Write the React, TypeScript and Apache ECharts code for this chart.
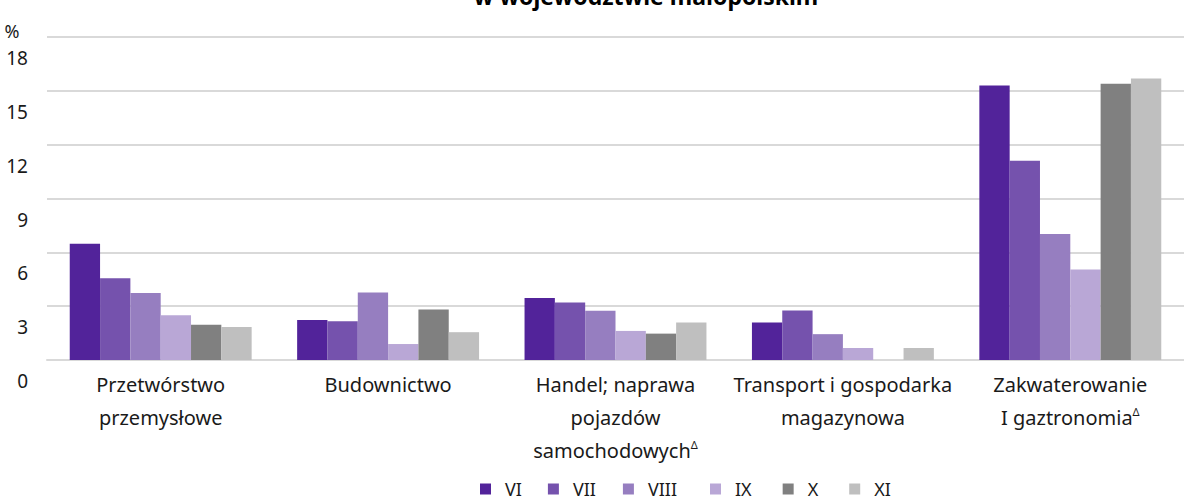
import React, { useEffect, useRef } from "react";
import * as echarts from "echarts";

const categories = [
  "Przetwórstwo\nprzemysłowe",
  "Budownictwo",
  "Handel; naprawa\npojazdów\nsamochodowychΔ",
  "Transport i gospodarka\nmagazynowa",
  "Zakwaterowanie\nI gaztronomiaΔ",
];
const seriesNames = ["VI", "VII", "VIII", "IX", "X", "XI"];
const vVI = [6.48, 2.23, 3.45, 2.09, 15.3];
const vVII = [4.56, 2.16, 3.2, 2.76, 11.1];
const vVIII = [3.73, 3.76, 2.74, 1.44, 7.02];
const vIX = [2.5, 0.89, 1.62, 0.67, 5.05];
const vX = [1.97, 2.81, 1.47, null, 15.39];
const vXI = [1.84, 1.55, 2.09, 0.67, 15.69];
const seriesValues = [vVI, vVII, vVIII, vIX, vX, vXI];
const colors = ["#52239a", "#7552ad", "#967ec0", "#b9a7d6", "#808080", "#bfbfbf"];
const yTicks = { min: 0, max: 18, interval: 3 };
const titleText = "w województwie małopolskim";
const legendTextPadRight = [0, 1, 7, 5, 5, 0];

const FONT = "Noto Sans";

export default function App() {
  const ref = useRef<HTMLDivElement>(null);
  useEffect(() => {
    if (!ref.current) return;
    const chart = echarts.init(ref.current, undefined, { renderer: "svg" });
    chart.setOption({
      animation: false,
      textStyle: { fontFamily: FONT },
      title: {
        text: titleText,
        left: 641,
        textAlign: "center",
        top: -21,
        textStyle: { fontSize: 23, fontWeight: "bold", color: "#000", fontFamily: FONT },
      },
      grid: { left: 47, top: 37, width: 1150, height: 323, containLabel: false },
      legend: {
        data: seriesNames.map((name, i) => ({
          name,
          textStyle: { padding: [0, legendTextPadRight[i], 0, 9] },
        })),
        left: 475,
        top: 477,
        padding: [3, 5, 0, 5],
        icon: "rect",
        itemWidth: 11,
        itemHeight: 11,
        itemGap: 26,
        textStyle: {
          fontSize: 18,
          lineHeight: 18,
          color: "#1a1a1a",
          padding: [0, 0, 0, 9],
          fontFamily: FONT,
        },
      },
      xAxis: {
        type: "category",
        data: categories,
        axisTick: { show: false },
        axisLine: { lineStyle: { color: "#d9d9d9", width: 2 } },
        axisLabel: {
          interval: 0,
          margin: 8,
          fontSize: 20,
          color: "#1a1a1a",
          lineHeight: 33,
          fontFamily: FONT,
          formatter: (v: string) => v.replace(/Δ/g, "{sup|Δ}"),
          rich: {
            sup: {
              fontSize: 11,
              verticalAlign: "top",
              padding: [5, 0, 0, 0],
              color: "#1a1a1a",
              fontFamily: FONT,
            },
          },
        },
      },
      yAxis: {
        type: "value",
        min: yTicks.min,
        max: yTicks.max,
        interval: yTicks.interval,
        axisLine: { show: false },
        axisTick: { show: false },
        splitLine: { lineStyle: { color: "#d9d9d9", width: 2 } },
        axisLabel: { show: false },
      },
      series: seriesNames.map((name, i) => ({
        name,
        type: "bar",
        data: seriesValues[i],
        barGap: "0%",
        barCategoryGap: "20%",
        itemStyle: { color: colors[i] },
      })),
    });

    const labels: any[] = [];
    for (let v = yTicks.min; v <= yTicks.max; v += yTicks.interval) {
      const y = chart.convertToPixel({ yAxisIndex: 0 }, v) as number;
      labels.push({
        type: "text",
        x: 28,
        y: y + 21,
        style: {
          text: String(v),
          fontSize: 19,
          fill: "#1a1a1a",
          fontFamily: FONT,
          align: "right",
          verticalAlign: "middle",
        },
      });
    }
    labels.push({
      type: "text",
      x: 12,
      y: 31,
      style: {
        text: "%",
        fontSize: 18,
        fill: "#1a1a1a",
        fontFamily: FONT,
        align: "center",
        verticalAlign: "middle",
      },
    });
    chart.setOption({ graphic: labels });
    return () => chart.dispose();
  }, []);
  return <div ref={ref} style={{ width: 1184, height: 502, position: "absolute", left: 0, top: 0 }} />;
}
